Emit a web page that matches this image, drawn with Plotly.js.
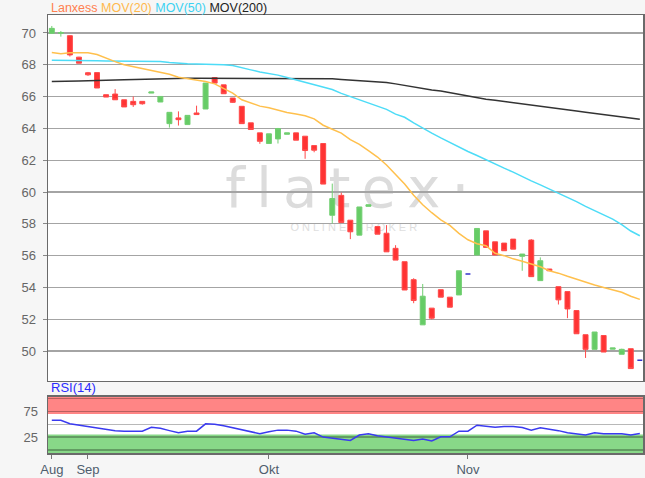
<!DOCTYPE html>
<html>
<head>
<meta charset="utf-8">
<script src="https://cdn.plot.ly/plotly-3.0.1.min.js"></script>
<style>
  html, body { margin: 0; padding: 0; background: #f6f6f6; }
  #chart { width: 645px; height: 478px; }
</style>
</head>
<body>
<div id="chart"></div>
<script>
const dates = [
  '2018-08-28','2018-08-29','2018-08-30','2018-08-31',
  '2018-09-03','2018-09-04','2018-09-05','2018-09-06','2018-09-07',
  '2018-09-10','2018-09-11','2018-09-12','2018-09-13','2018-09-14',
  '2018-09-17','2018-09-18','2018-09-19','2018-09-20','2018-09-21',
  '2018-09-24','2018-09-25','2018-09-26','2018-09-27','2018-09-28',
  '2018-10-01','2018-10-02','2018-10-04','2018-10-05',
  '2018-10-08','2018-10-09','2018-10-10','2018-10-11','2018-10-12',
  '2018-10-15','2018-10-16','2018-10-17','2018-10-18','2018-10-19',
  '2018-10-22','2018-10-23','2018-10-24','2018-10-25','2018-10-26',
  '2018-10-29','2018-10-30','2018-10-31',
  '2018-11-01','2018-11-02',
  '2018-11-05','2018-11-06','2018-11-07','2018-11-08','2018-11-09',
  '2018-11-12','2018-11-13','2018-11-14','2018-11-15','2018-11-16',
  '2018-11-19','2018-11-20','2018-11-21','2018-11-22','2018-11-23',
  '2018-11-26','2018-11-27','2018-11-28'
];
const open  = [69.98,69.98,69.83,68.48,67.50,67.51,66.12,66.16,65.80,65.70,65.70,66.22,65.66,64.30,64.66,64.24,64.97,65.22,67.20,66.74,65.91,65.39,64.35,63.72,63.05,63.34,63.63,63.72,63.51,62.92,63.05,58.54,59.79,58.23,57.29,59.10,57.83,57.41,56.46,55.62,54.49,51.65,52.70,53.86,53.39,53.53,54.85,56.04,57.56,56.87,56.79,57.04,55.96,56.98,54.43,55.16,54.05,53.74,52.55,51.03,50.11,50.98,50.12,49.80,50.15,49.42];
const high  = [70.44,70.12,69.85,68.50,67.55,67.51,66.12,66.47,65.80,66.01,65.70,66.29,66.01,65.01,65.07,64.82,65.43,66.85,67.20,66.74,65.91,65.39,64.35,63.72,63.66,64.03,63.72,63.72,63.51,62.92,63.05,60.53,59.96,58.23,59.06,59.20,57.83,57.92,56.66,55.62,54.58,54.22,52.70,53.86,53.39,55.05,54.85,57.71,57.56,56.87,56.79,57.04,56.10,57.04,55.89,55.16,54.05,53.74,52.55,51.03,51.20,50.98,50.20,50.15,50.15,49.42];
const low   = [69.95,69.77,68.52,68.10,67.30,66.54,65.97,65.80,65.35,65.35,65.49,66.22,65.66,64.05,64.18,64.24,64.87,65.22,66.85,66.18,65.60,64.30,63.93,63.03,63.05,63.05,63.63,63.26,62.09,62.50,60.50,58.02,58.08,57.04,57.29,59.10,57.35,56.24,55.72,53.84,53.01,51.65,51.99,53.39,52.76,53.53,54.85,56.04,56.52,56.04,56.31,56.41,55.05,54.68,54.43,55.05,52.93,52.07,51.09,49.57,50.11,49.94,50.12,49.80,48.90,49.42];
const close = [70.29,70.03,68.62,68.10,67.37,66.54,65.97,65.80,65.35,65.49,65.55,66.29,66.01,65.01,64.55,64.82,64.87,66.85,66.85,66.18,65.64,64.30,63.93,63.19,63.66,63.99,63.72,63.26,62.61,62.63,60.50,59.59,58.08,57.50,59.06,59.20,57.35,56.24,55.72,53.84,53.18,53.45,52.07,53.39,52.76,55.05,54.85,57.71,56.52,56.04,56.31,56.41,56.10,54.68,55.68,55.05,53.22,52.65,51.09,50.11,51.20,49.94,50.20,50.11,48.90,49.42];
const mov20  = [68.77,68.69,68.75,68.77,68.75,68.65,68.40,68.20,68.00,67.88,67.79,67.68,67.55,67.40,67.22,67.12,67.06,66.95,66.80,66.50,66.22,65.80,65.60,65.40,65.30,65.15,65.00,64.90,64.80,64.60,64.20,63.95,63.70,63.30,63.00,62.60,62.20,61.70,61.10,60.50,59.80,59.20,58.70,58.25,57.90,57.40,57.00,56.75,56.62,56.15,56.00,55.80,55.65,55.45,55.30,55.05,54.90,54.70,54.50,54.33,54.15,54.00,53.85,53.70,53.45,53.25];
const mov50  = [68.29,68.29,68.28,68.27,68.26,68.25,68.24,68.23,68.22,68.21,68.20,68.20,68.20,68.14,68.08,68.06,68.05,68.04,68.02,68.00,67.95,67.80,67.68,67.55,67.45,67.35,67.20,67.05,66.90,66.75,66.60,66.45,66.20,66.00,65.80,65.60,65.42,65.20,64.90,64.70,64.35,64.00,63.70,63.40,63.10,62.80,62.55,62.30,62.05,61.80,61.50,61.25,60.95,60.70,60.45,60.20,59.95,59.65,59.40,59.10,58.85,58.55,58.30,57.95,57.55,57.25];
const mov200 = [66.95,66.95,66.97,66.98,67.00,67.00,67.02,67.04,67.06,67.08,67.10,67.12,67.13,67.14,67.15,67.16,67.16,67.16,67.16,67.16,67.16,67.16,67.16,67.16,67.16,67.16,67.16,67.16,67.16,67.16,67.15,67.12,67.08,67.04,67.02,67.00,66.95,66.88,66.80,66.70,66.60,66.50,66.42,66.35,66.25,66.15,66.05,65.92,65.84,65.77,65.70,65.62,65.55,65.47,65.40,65.33,65.26,65.19,65.10,65.02,64.95,64.88,64.80,64.72,64.64,64.57];
const rsi14  = [57.7,57.7,51.0,48.5,45.5,42.5,40.0,37.5,36.5,36.5,36.5,44.0,42.0,37.5,33.4,36.5,36.5,50.8,50.0,47.0,43.0,39.5,36.0,31.5,35.5,38.5,38.5,36.5,30.5,33.4,25.0,23.0,20.5,18.5,29.0,31.5,27.5,25.5,23.0,20.5,18.5,21.0,17.5,25.5,25.5,36.5,36.5,48.1,45.5,44.0,45.6,45.6,43.5,38.5,43.0,40.5,37.5,33.4,31.5,29.0,33.4,31.5,31.5,31.5,28.8,32.0];
const tickDates = ['2018-08-28','2018-09-03','2018-10-01','2018-11-01'];
const tickLabels = ['Aug','Sep','Okt','Nov'];

// split flat (unchanged) days into their own blue series
const idxMain = [], idxFlat = [];
dates.forEach((d, i) => {
  if (open[i] === close[i] && high[i] === low[i]) idxFlat.push(i); else idxMain.push(i);
});
const pick = (arr, idx) => idx.map(i => arr[i]);

const FONT = 'Liberation Sans, Arial, sans-serif';

const traces = [
  {
    type: 'candlestick', xaxis: 'x', yaxis: 'y',
    x: pick(dates, idxMain), open: pick(open, idxMain), high: pick(high, idxMain),
    low: pick(low, idxMain), close: pick(close, idxMain),
    increasing: { line: { color: '#72cf72', width: 1 }, fillcolor: '#66cc66' },
    decreasing: { line: { color: '#ff4a4a', width: 1 }, fillcolor: '#ff3333' },
    whiskerwidth: 0, showlegend: false, hoverinfo: 'skip'
  },
  {
    type: 'candlestick', xaxis: 'x', yaxis: 'y',
    x: pick(dates, idxFlat), open: pick(open, idxFlat), high: pick(high, idxFlat),
    low: pick(low, idxFlat), close: pick(close, idxFlat),
    increasing: { line: { color: '#3333cc', width: 1.5 }, fillcolor: '#3333cc' },
    decreasing: { line: { color: '#3333cc', width: 1.5 }, fillcolor: '#3333cc' },
    whiskerwidth: 0, showlegend: false, hoverinfo: 'skip'
  },
  { type: 'scatter', mode: 'lines', x: dates, y: mov200, xaxis: 'x', yaxis: 'y',
    line: { color: '#333333', width: 1.5 }, showlegend: false, hoverinfo: 'skip' },
  { type: 'scatter', mode: 'lines', x: dates, y: mov50, xaxis: 'x', yaxis: 'y',
    line: { color: '#4ddcf7', width: 1.5 }, showlegend: false, hoverinfo: 'skip' },
  { type: 'scatter', mode: 'lines', x: dates, y: mov20, xaxis: 'x', yaxis: 'y',
    line: { color: '#ffc04d', width: 1.5 }, showlegend: false, hoverinfo: 'skip' },
  { type: 'scatter', mode: 'lines', x: dates, y: rsi14, xaxis: 'x2', yaxis: 'y2',
    line: { color: '#3a3af0', width: 1.5 }, showlegend: false, hoverinfo: 'skip' }
];

const xRange = [-0.42, 65.35];
const T = '\u2009';
const layout = {
  width: 645, height: 478,
  margin: { l: 48, r: 2, t: 15, b: 25, pad: 0 },
  paper_bgcolor: '#f6f6f6', plot_bgcolor: '#ffffff',
  font: { family: FONT, size: 13, color: '#666666' },
  showlegend: false,
  boxgap: 0.22,
  xaxis: {
    type: 'category', categoryorder: 'array', categoryarray: dates,
    range: xRange, anchor: 'y', domain: [0, 1],
    showticklabels: false, ticks: '', showgrid: false,
    showline: true, mirror: true, linecolor: '#6a6a6a', linewidth: 1.5,
    rangeslider: { visible: false }, zeroline: false
  },
  yaxis: {
    domain: [0.1644, 1], range: [48.12, 71.13], anchor: 'x',
    tick0: 0, dtick: 2, ticks: 'outside', ticklen: 4, tickcolor: '#888',
    tickfont: { family: FONT, size: 13, color: '#666666' },
    ticklabelstandoff: 4,
    showgrid: true, gridcolor: '#a4a4a4', gridwidth: 1.3,
    showline: true, mirror: true, linecolor: '#6a6a6a', linewidth: 1.5,
    zeroline: false
  },
  xaxis2: {
    type: 'category', categoryorder: 'array', categoryarray: dates,
    range: xRange, anchor: 'y2', matches: 'x', domain: [0, 1],
    tickmode: 'array', tickvals: tickDates, ticktext: tickLabels,
    ticks: 'outside', ticklen: 4, tickcolor: '#777', tickwidth: 1,
    tickfont: { family: FONT, size: 13, color: '#4f5d6d' },
    showgrid: false, showline: true, mirror: true, linecolor: '#6a6a6a', linewidth: 1.5,
    rangeslider: { visible: false }, zeroline: false
  },
  yaxis2: {
    domain: [0, 0.1279], range: [-6, 103], anchor: 'x2',
    tickmode: 'array', tickvals: [0, 25, 50, 75, 100], ticktext: ['', '25', '', '75', ''],
    ticks: '', tickfont: { family: FONT, size: 13, color: '#666666' },
    ticklabelstandoff: 6,
    showgrid: true, gridcolor: 'rgba(0,0,0,0.28)', gridwidth: 1.3,
    showline: true, mirror: true, linecolor: '#6a6a6a', linewidth: 1.5,
    zeroline: false
  },
  shapes: [
    { type: 'rect', xref: 'x2 domain', yref: 'y2', x0: 0, x1: 1, y0: 70, y1: 103,
      fillcolor: '#ff8585', line: { width: 0 }, layer: 'below' },
    { type: 'rect', xref: 'x2 domain', yref: 'y2', x0: 0, x1: 1, y0: -6, y1: 30,
      fillcolor: '#88d888', line: { width: 0 }, layer: 'below' },
    { type: 'rect', xref: 'paper', yref: 'paper', x0: 0.303, x1: 0.703, y0: 0.58, y1: 0.65,
      fillcolor: 'rgba(0,0,0,0)', line: { width: 0 }, layer: 'between',
      label: { text: 'f' + T + 'l' + T + 'a' + T + 't' + T + 'e' + T + 'x' + T + '·',
               textposition: 'middle center',
               font: { family: 'DejaVu Sans, sans-serif', size: 56, color: '#dcdcdc' } } },
    { type: 'rect', xref: 'paper', yref: 'paper', x0: 0.414, x1: 0.614, y0: 0.508, y1: 0.528,
      fillcolor: 'rgba(0,0,0,0)', line: { width: 0 }, layer: 'between',
      label: { text: 'O N L I N E   B R O K E R', textposition: 'middle center',
               font: { family: FONT, size: 11, color: '#dedede' } } }
  ],
  annotations: [
    { xref: 'paper', yref: 'paper', x: 0.001, y: 1, yshift: 7, xanchor: 'left', yanchor: 'middle',
      showarrow: false, font: { family: FONT, size: 12.5 },
      text: '<span style="color:#ff7f50">Lanxess</span> <span style="color:#ffb84d">MOV(20)</span> <span style="color:#3cd2f2">MOV(50)</span> <span style="color:#222222">MOV(200)</span>' },
    { xref: 'paper', yref: 'paper', x: 0.001, y: 0.1279, xanchor: 'left', yanchor: 'bottom',
      showarrow: false, font: { family: FONT, size: 13, color: '#2a2aff' }, text: 'RSI(14)' }
  ]
};

Plotly.newPlot('chart', traces, layout, { staticPlot: true, displayModeBar: false });
</script>
</body>
</html>
